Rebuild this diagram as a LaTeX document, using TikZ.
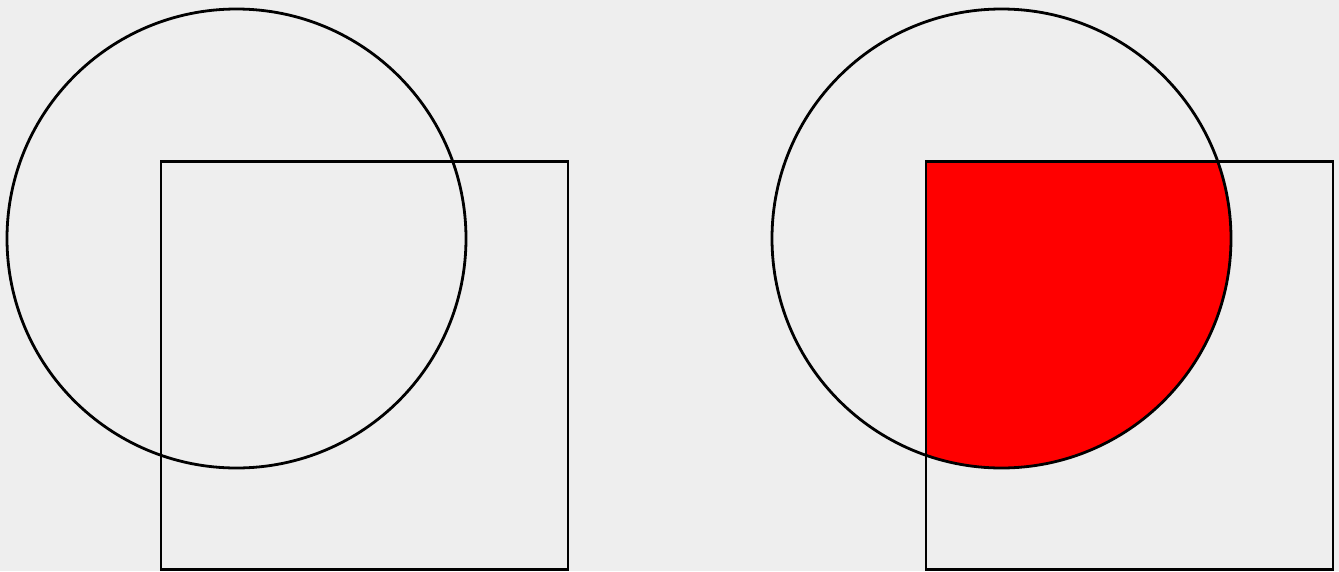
\documentclass[tikz,border=0pt]{standalone}
\begin{document}
\begin{tikzpicture}[x=1pt,y=-1pt,
  outline/.style={draw=black,line width=2.8pt},
  region/.style={fill=red}]
\fill[fill={rgb,255:red,238;green,238;blue,238}] (0,0) rectangle (1339,571);
\useasboundingbox (0,0) rectangle (1339,571);
% left
\coordinate (c1) at (236.5,238.5);
\draw[outline] (c1) circle[radius=229.5];
\draw[outline] (161,161.5) rectangle (568,569.5);
% right
\coordinate (c2) at (1001.5,238.5);
\begin{scope}
  \clip (c2) circle[radius=229.5];
  \fill[region] (926,161.5) rectangle (1333,569.5);
\end{scope}
\draw[outline] (c2) circle[radius=229.5];
\draw[outline] (926,161.5) rectangle (1333,569.5);
\end{tikzpicture}
\end{document}
